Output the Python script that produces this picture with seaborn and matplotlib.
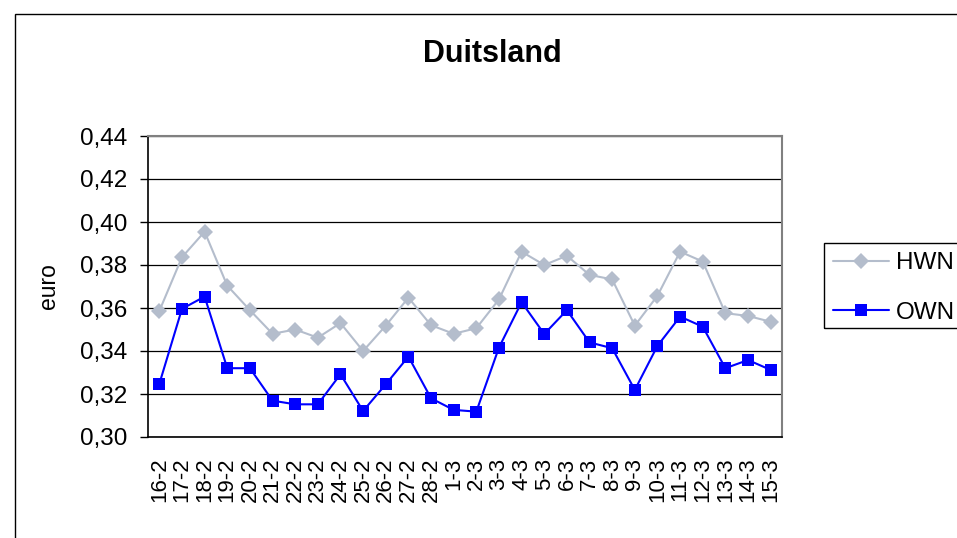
import numpy as np
import pandas as pd
import matplotlib
matplotlib.use("Agg")
import matplotlib.pyplot as plt
import seaborn as sns
from matplotlib.patches import Rectangle

dates = ["16-2", "17-2", "18-2", "19-2", "20-2", "21-2", "22-2", "23-2", "24-2", "25-2",
         "26-2", "27-2", "28-2", "1-3", "2-3", "3-3", "4-3", "5-3", "6-3", "7-3",
         "8-3", "9-3", "10-3", "11-3", "12-3", "13-3", "14-3", "15-3"]
hwn = [0.3586, 0.3836, 0.3955, 0.3704, 0.3590, 0.3480, 0.3500, 0.3462, 0.3530, 0.3400,
       0.3518, 0.3648, 0.3520, 0.3480, 0.3506, 0.3640, 0.3862, 0.3800, 0.3843, 0.3754,
       0.3733, 0.3518, 0.3657, 0.3862, 0.3816, 0.3576, 0.3563, 0.3536]
own = [0.3247, 0.3596, 0.3653, 0.3320, 0.3320, 0.3169, 0.3152, 0.3152, 0.3292, 0.3121,
       0.3245, 0.3374, 0.3180, 0.3126, 0.3118, 0.3416, 0.3627, 0.3479, 0.3590, 0.3440,
       0.3413, 0.3219, 0.3424, 0.3560, 0.3513, 0.3320, 0.3358, 0.3312]
y_ticks = [0.30, 0.32, 0.34, 0.36, 0.38, 0.40, 0.42, 0.44]

sns.set_style("white")
plt.rcParams['font.family'] = ['Liberation Sans', 'DejaVu Sans']
for k in ["text.color", "axes.labelcolor", "xtick.color", "ytick.color"]:
    plt.rcParams[k] = "black"

fig = plt.figure(figsize=(9.57, 5.38), dpi=100)
ax = fig.add_axes([148/957, 1-437/538, 634/957, 301/538])

pos = np.arange(len(dates))
df = pd.DataFrame({"pos": pos, "HWN": hwn, "OWN": own})

sns.lineplot(data=df, x="pos", y="HWN", ax=ax, color="#B4BDCC", marker="D",
             markersize=8, markeredgewidth=0, linewidth=1.5, label="HWN", zorder=3)
sns.lineplot(data=df, x="pos", y="OWN", ax=ax, color="#0000FF", marker="s",
             markersize=8.5, markeredgewidth=0, linewidth=1.5, label="OWN", zorder=4)

ax.set_xlim(-0.5, len(dates) - 0.5)
ax.set_ylim(0.30, 0.44)
ax.set_yticks(y_ticks)
ax.set_yticklabels([f"{v:.2f}".replace(".", ",") for v in y_ticks], fontsize=17.5)
ax.yaxis.grid(True, color="black", linewidth=0.9)
ax.set_axisbelow(True)

ax.set_xticks(pos)
ax.set_xticklabels(dates, rotation=90, fontsize=16)
ax.set_xticks(np.arange(len(dates) + 1) - 0.5, minor=True)
ax.tick_params(axis="x", which="major", length=0, pad=15)
ax.tick_params(axis="x", which="minor", length=6, width=1, direction="out", color="black")
ax.tick_params(axis="y", length=6, width=1, direction="out", color="black", left=True, pad=9)

ax.set_xlabel("")
ax.set_ylabel("euro", fontsize=16.5)
ax.yaxis.set_label_coords(-88/634, 0.5)

for s in ["left", "bottom"]:
    ax.spines[s].set_color("black")
    ax.spines[s].set_linewidth(1.2)
for s in ["right", "top"]:
    ax.spines[s].set_color("#808080")
    ax.spines[s].set_linewidth(1.5)

fig.text(492/957, 1-54/538, "Duitsland", fontsize=22, fontweight="bold",
         ha="center", va="center")

ax.get_legend().remove()
handles, labels = ax.get_legend_handles_labels()
leg = fig.legend(handles, labels, loc="center left",
                 bbox_to_anchor=(833/957, 1-288/538),
                 fontsize=17.5, frameon=False, borderaxespad=0, borderpad=0,
                 handlelength=2.3, labelspacing=1.15, handletextpad=0.3)

fig.patches.append(Rectangle((824/957, 1-328/538), 0.3, 85/538, transform=fig.transFigure,
                             fill=False, edgecolor="black", linewidth=1.0))
fig.patches.append(Rectangle((15/957, -0.1), 2, 1.1 - 14/538, transform=fig.transFigure,
                             fill=False, edgecolor="black", linewidth=1.0))

fig.savefig("out.png", dpi=100, facecolor="white")
